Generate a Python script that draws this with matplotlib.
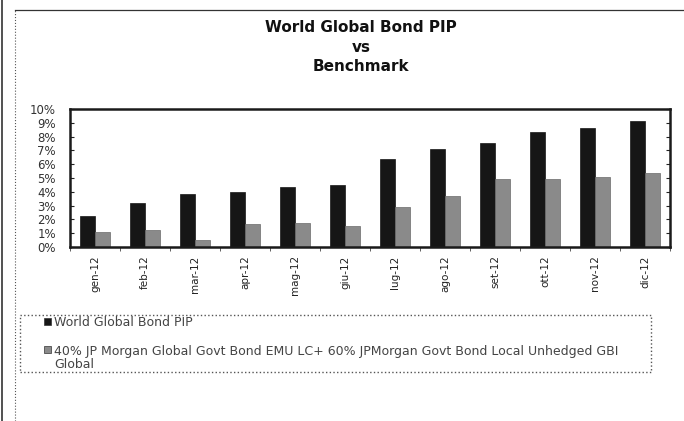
import matplotlib
matplotlib.use("Agg")
import matplotlib.pyplot as plt
import numpy as np
from matplotlib.lines import Line2D
from matplotlib.patches import Patch, Rectangle

categories = ["gen-12", "feb-12", "mar-12", "apr-12", "mag-12", "giu-12",
              "lug-12", "ago-12", "set-12", "ott-12", "nov-12", "dic-12"]
fund = [2.25, 3.2, 3.86, 3.98, 4.33, 4.47, 6.4, 7.1, 7.54, 8.33, 8.62, 9.15]
bench = [1.11, 1.23, 0.53, 1.69, 1.71, 1.54, 2.88, 3.7, 4.9, 4.9, 5.05, 5.34]
yticks = list(range(0, 11))
series_names = ["World Global Bond PIP",
                "40% JP Morgan Global Govt Bond EMU LC+ 60% JPMorgan Govt Bond Local Unhedged GBI\nGlobal"]
series_colors = ["#161616", "#8a8a8a"]
title = "World Global Bond PIP\nvs\nBenchmark"

W, H = 684, 421
fig = plt.figure(figsize=(W / 100, H / 100), dpi=100)
ax = fig.add_axes([70 / W, 1 - 247 / H, 600 / W, 138 / H])

x = np.arange(len(categories))
ax.bar(x - 0.15, fund, width=0.3, color=series_colors[0], edgecolor="#161616", linewidth=0.5)
ax.bar(x + 0.15, bench, width=0.3, color=series_colors[1], edgecolor="#6a6a6a", linewidth=0.5)

ax.set_xlim(-0.5, len(categories) - 0.5)
ax.set_ylim(0, 10)
ax.set_yticks(yticks)
ax.set_yticklabels([f"{v}%" for v in yticks], fontsize=8.5, color="#333333")
ax.set_xticks(x)
ax.set_xticklabels(categories, rotation=90, fontsize=7.5, color="#222222")
ax.set_xticks(np.arange(-0.5, len(categories), 1.0), minor=True)
ax.tick_params(axis="x", which="major", length=0, pad=6)
ax.tick_params(axis="x", which="minor", length=3, direction="out", color="#444444")
ax.tick_params(axis="y", which="major", length=3, direction="in", right=True,
               color="#222222", pad=10)
for s in ax.spines.values():
    s.set_linewidth(1.8)
    s.set_color("#1a1a1a")

fig.text(361 / W, 1 - 47 / H, title, ha="center", va="center",
         fontsize=11, fontweight="bold", linespacing=1.4, color="#111111")

# legend frame (dotted)
fig.add_artist(Rectangle((20 / W, 1 - 372 / H), 631 / W, 57 / H,
                         transform=fig.transFigure, fill=False,
                         edgecolor="#555555", lw=1.0, ls=":"))
# legend entries: square swatch aligned with the first text line
entry_y = [323, 351]
for name, col, yy in zip(series_names, series_colors, entry_y):
    fig.add_artist(Rectangle((44 / W, 1 - (yy + 1.5) / H), 7 / W, 7 / H,
                             transform=fig.transFigure, facecolor=col,
                             edgecolor="#333333", lw=0.5))
    fig.text(54 / W, 1 - (yy - 6.5) / H, name, ha="left", va="top",
             fontsize=9, color="#444444", linespacing=1.05)

# outer page/frame lines
fig.add_artist(Line2D([2 / W, 2 / W], [0, 1], color="#333333", lw=1.2))
fig.add_artist(Line2D([15 / W, 15 / W], [0, 1 - 10 / H], color="#555555", lw=0.8, ls=":"))
fig.add_artist(Line2D([15 / W, 1], [1 - 10 / H, 1 - 10 / H], color="#333333", lw=0.9))

fig.savefig("out.png", dpi=100)
